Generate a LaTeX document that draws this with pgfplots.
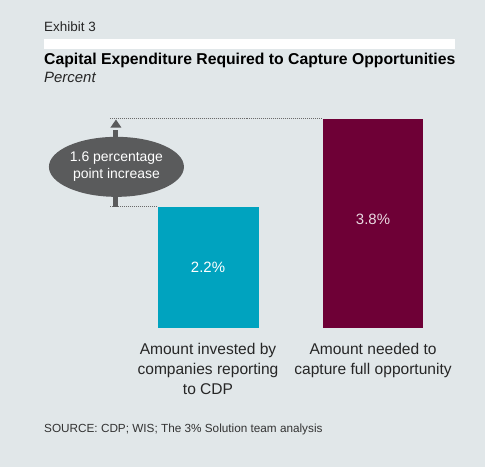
\documentclass[border=0pt]{standalone}
\usepackage{pgfplots}
\pgfplotsset{compat=1.18}
\usepackage{fontspec}
\setmainfont{Liberation Sans}
\definecolor{bgc}{HTML}{E1E7E9}
\definecolor{tealc}{HTML}{00A3BF}
\definecolor{maroonc}{HTML}{6E0036}
\definecolor{ellc}{HTML}{5A5B5C}
\definecolor{dotc}{HTML}{6A6A6A}
\begin{document}
\begin{tikzpicture}[x=1bp,y=1bp]
\fill[bgc] (0,0) rectangle (485,467);
\fill[white] (44,418) rectangle (455,428);
\node[anchor=base west,inner sep=0pt,font=\fontsize{13.5}{15}\selectfont,text=black!85] at (44,435) {Exhibit 3};
\node[anchor=base west,inner sep=0pt,font=\fontsize{15.8}{17}\selectfont\bfseries] at (44,402) {Capital Expenditure Required to Capture Opportunities};
\node[anchor=base west,inner sep=0pt,font=\fontsize{15}{17}\selectfont\itshape,text=black!85] at (44,384) {Percent};
\node[anchor=base west,inner sep=0pt,font=\fontsize{11.8}{14}\selectfont,text=black!80] at (44,34) {SOURCE: CDP; WIS; The 3\% Solution team analysis};
\begin{axis}[
  at={(110bp,139bp)}, anchor=south west,
  scale only axis, width=330bp, height=220bp,
  xmin=-0.594, xmax=1.406, ymin=0, ymax=4,
  axis line style={draw=none},
  major tick length=0pt,
  ytick=\empty,
  xtick={0,1},
  xticklabels={{Amount invested by\\companies reporting\\to CDP},{Amount needed to\\capture full opportunity}},
  xticklabel style={align=center, font=\fontsize{15.6}{19.8}\selectfont, text=black!85, yshift=-12bp},
  clip=false,
]
\addplot[ybar, bar shift=0pt, bar width=101bp, fill=tealc, draw=none] coordinates {(0,2.2)};
\addplot[ybar, bar shift=0pt, bar width=100bp, fill=maroonc, draw=none] coordinates {(1,3.8)};
\node[text=white, font=\fontsize{15}{17}\selectfont] at (axis cs:0,1.11) {2.2\%};
\node[text=white!85!maroonc, font=\fontsize{15}{17}\selectfont] at (axis cs:1,1.98) {3.8\%};
\draw[dotc, densely dotted, line width=1pt] (axis cs:-0.594,3.8) -- (axis cs:0.697,3.8);
\draw[dotc, densely dotted, line width=1pt] (axis cs:-0.594,2.2) -- (axis cs:-0.309,2.2);
\draw[ellc, line width=5bp] (axis cs:-0.561,2.2) -- (axis cs:-0.561,3.6);
\fill[ellc] (axis cs:-0.558,3.79) -- ++(-5.5bp,-8bp) -- ++(11bp,0bp) -- cycle;
\fill[ellc] (axis cs:-0.555,2.93) ellipse [x radius=67.5bp, y radius=30bp];
\node[text=white, align=center, font=\fontsize{14}{17}\selectfont] at (axis cs:-0.555,2.93) {1.6 percentage\\point increase};
\end{axis}
\end{tikzpicture}
\end{document}
